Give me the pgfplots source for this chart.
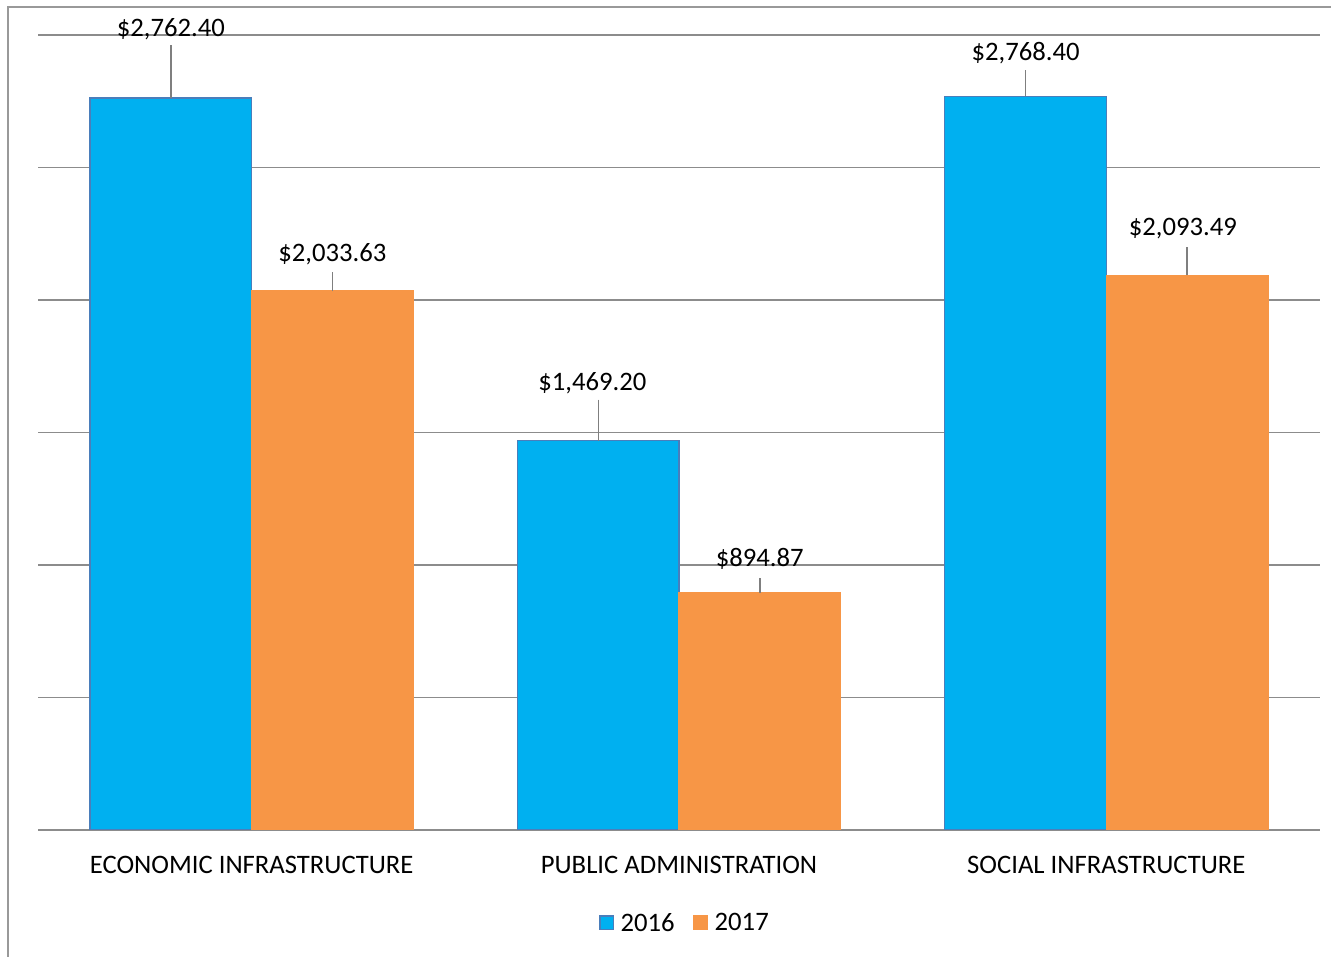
\documentclass[border=0pt]{standalone}
\usepackage{fontspec}
\setmainfont{Carlito}
\usepackage{pgfplots}
\usepackage{pgfplotstable}
\pgfplotsset{compat=1.18}
\definecolor{barblue}{HTML}{00B0F0}
\definecolor{barorange}{HTML}{F79646}
\definecolor{bluedge}{HTML}{4A7EBB}
\definecolor{gridgray}{HTML}{8C8C8C}
\definecolor{leadgray}{HTML}{7F7F7F}

% x: category, y: value, err: leader length (data units), off/xoff: label shift (pt)
\pgfplotstableread{
x y err off xoff
0 2762.40 200 25.8 0
1 1469.20 155 21.7 -2.2
2 2768.40 98 16.1 0
}\yearA
\pgfplotstableread{
x y err off xoff
0 2033.63 72 13.8 0
1 894.87 57 12.7 0
2 2093.49 106 17.6 -1.6
}\yearB

\pgfplotsset{leader/.style={
  error bars/y dir=plus, error bars/y explicit, error bars/error mark=none,
  error bars/error bar style={leadgray, line width=0.55pt}}}

\begin{document}
\begin{tikzpicture}
\begin{axis}[
  scale only axis,
  width=480.75pt,
  height=298.1pt,
  ybar=0pt,
  bar width=0.378,
  xmin=-0.5, xmax=2.5,
  ymin=0, ymax=3000,
  xtick={0,1,2},
  xticklabels={ECONOMIC INFRASTRUCTURE, PUBLIC ADMINISTRATION, SOCIAL INFRASTRUCTURE},
  xticklabel style={anchor=base, yshift=-16.5pt, font=\fontsize{10}{12}\selectfont},
  ytick={0,500,...,3000},
  yticklabels={},
  ymajorgrids,
  grid style={gridgray, line width=0.55pt},
  axis line style={draw=none},
  tick style={draw=none},
  major tick length=0pt,
  visualization depends on={\thisrow{off} \as \yoff},
  visualization depends on={\thisrow{xoff} \as \xoff},
  nodes near coords={\$\pgfmathprintnumber[fixed, fixed zerofill, precision=2, 1000 sep={,}, assume math mode=true]{\pgfplotspointmeta}},
  every node near coord/.append style={anchor=center, yshift=\yoff pt, xshift=\xoff pt, font=\fontsize{10}{12}\selectfont, text=black},
  legend columns=2,
  legend style={draw=none, at={(0.506,-0.1145)}, anchor=center, yshift=-1.2pt,
    font=\fontsize{10}{12}\selectfont,
    /tikz/every odd column/.append style={column sep=0.5pt},
    /tikz/every even column/.append style={column sep=5pt}},
  legend image code/.code={\draw[#1, line width=0.5pt] (0pt,-1.9pt) rectangle (5pt,3.1pt);},
]
\addplot[fill=barblue, draw=bluedge, line width=0.5pt, leader] table[x=x, y=y, y error plus=err] {\yearA};
\addplot[fill=barorange, draw=barorange, line width=0.5pt, leader] table[x=x, y=y, y error plus=err] {\yearB};
\legend{2016, 2017}
\end{axis}
% outer frame
\draw[gray!80, line width=0.6pt] (-11.25pt,-47.625pt) -- (-11.25pt,308.6pt) -- (484.875pt,308.6pt);
\pgfresetboundingbox
\path[use as bounding box] (-14.25pt,-47.625pt) rectangle (484.875pt,311.25pt);
\end{tikzpicture}
\end{document}
